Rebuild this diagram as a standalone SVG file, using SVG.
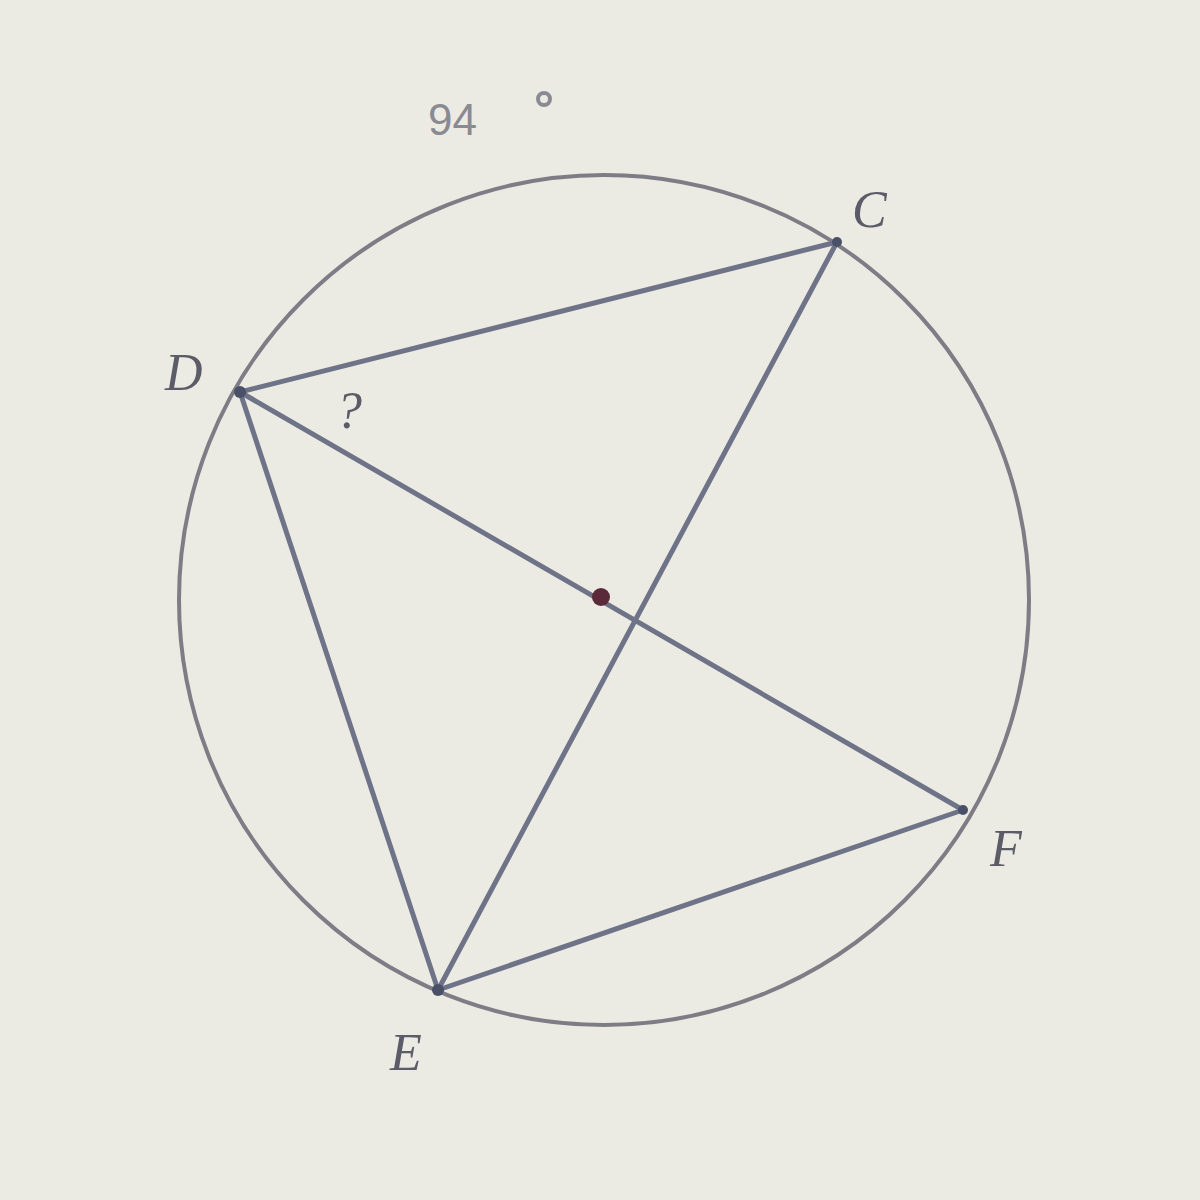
<svg xmlns="http://www.w3.org/2000/svg" width="1200" height="1200" viewBox="0 0 1200 1200">
<style>
.seg{stroke:#6f7388;stroke-width:5;stroke-linecap:round;fill:none}
.lbl{font-family:"Liberation Serif",serif;font-style:italic;fill:#5c5c68;font-size:52px}
.pt{fill:#4a5068}
</style>
<rect width="1200" height="1200" fill="#ecebe3"/>
<g id="circle"><circle cx="604" cy="600" r="425" fill="none" stroke="#7e7d86" stroke-width="4"/></g>
<g id="connectors">
<line class="seg" x1="240" y1="392" x2="837" y2="242"/>
<line class="seg" x1="240" y1="392" x2="963" y2="810"/>
<line class="seg" x1="240" y1="392" x2="438" y2="990"/>
<line class="seg" x1="837" y1="242" x2="438" y2="990"/>
<line class="seg" x1="438" y1="990" x2="963" y2="810"/>
</g>
<g id="center"><circle cx="601" cy="597" r="9" fill="#5a2a3a"/></g>
<g id="D"><circle class="pt" cx="240" cy="392" r="6"/><text class="lbl" x="165" y="390">D</text></g>
<g id="C"><circle class="pt" cx="837" cy="242" r="5"/><text class="lbl" x="852" y="227">C</text></g>
<g id="F"><circle class="pt" cx="963" cy="810" r="5"/><text class="lbl" x="990" y="866">F</text></g>
<g id="E"><circle class="pt" cx="438" cy="990" r="6"/><text class="lbl" x="390" y="1070">E</text></g>
<g id="angle"><text class="lbl" x="336" y="428" font-size="44">?</text></g>
<g id="arc"><text x="428" y="135" font-family="Liberation Sans, sans-serif" font-size="44" fill="#8a8a92">94</text><circle cx="544" cy="99" r="6" fill="none" stroke="#8a8a92" stroke-width="4"/></g>
</svg>
